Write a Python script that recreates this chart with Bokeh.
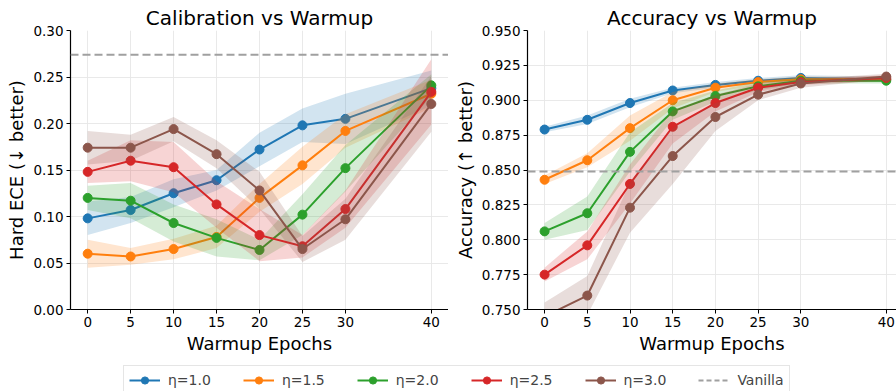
from bokeh.plotting import figure
from bokeh.layouts import column, row
from bokeh.models import FixedTicker, Span, Legend, LegendItem, NumeralTickFormatter
from bokeh.embed import file_html
from bokeh.resources import INLINE

# ---------------- data ----------------
epochs = [0, 5, 10, 15, 20, 25, 30, 40]
etas = ["η=1.0", "η=1.5", "η=2.0", "η=2.5", "η=3.0"]
colors = ["#1f77b4", "#ff7f0e", "#2ca02c", "#d62728", "#8c564b"]

ece_eta10 = [0.098, 0.107, 0.125, 0.139, 0.172, 0.198, 0.205, 0.238]
ece_eta15 = [0.060, 0.057, 0.065, 0.078, 0.120, 0.155, 0.192, 0.232]
ece_eta20 = [0.120, 0.117, 0.093, 0.077, 0.064, 0.102, 0.152, 0.241]
ece_eta25 = [0.148, 0.160, 0.153, 0.113, 0.080, 0.068, 0.108, 0.234]
ece_eta30 = [0.174, 0.174, 0.194, 0.167, 0.128, 0.065, 0.097, 0.221]

ece_std10 = [0.018, 0.014, 0.015, 0.011, 0.018, 0.018, 0.027, 0.019]
ece_std15 = [0.015, 0.009, 0.011, 0.012, 0.015, 0.020, 0.018, 0.015]
ece_std20 = [0.013, 0.019, 0.020, 0.020, 0.011, 0.022, 0.025, 0.012]
ece_std25 = [0.012, 0.022, 0.027, 0.025, 0.028, 0.012, 0.020, 0.035]
ece_std30 = [0.018, 0.014, 0.013, 0.015, 0.020, 0.014, 0.022, 0.030]

acc_eta10 = [0.879, 0.886, 0.898, 0.907, 0.911, 0.914, 0.916, 0.915]
acc_eta15 = [0.843, 0.857, 0.880, 0.900, 0.909, 0.913, 0.915, 0.915]
acc_eta20 = [0.806, 0.819, 0.863, 0.892, 0.903, 0.910, 0.914, 0.914]
acc_eta25 = [0.775, 0.796, 0.840, 0.881, 0.898, 0.909, 0.913, 0.916]
acc_eta30 = [0.745, 0.760, 0.823, 0.860, 0.888, 0.904, 0.912, 0.917]

acc_std10 = [0.002, 0.003, 0.003, 0.002, 0.002, 0.002, 0.002, 0.002]
acc_std15 = [0.003, 0.005, 0.009, 0.006, 0.003, 0.002, 0.002, 0.002]
acc_std20 = [0.006, 0.012, 0.014, 0.006, 0.004, 0.003, 0.002, 0.002]
acc_std25 = [0.005, 0.010, 0.014, 0.012, 0.006, 0.003, 0.002, 0.002]
acc_std30 = [0.010, 0.014, 0.018, 0.020, 0.010, 0.004, 0.003, 0.002]

vanilla_ece = 0.274
vanilla_acc = 0.849

ece_ticks = [0.0, 0.05, 0.10, 0.15, 0.20, 0.25, 0.30]
acc_ticks = [0.750, 0.775, 0.800, 0.825, 0.850, 0.875, 0.900, 0.925, 0.950]

ece_means = [ece_eta10, ece_eta15, ece_eta20, ece_eta25, ece_eta30]
ece_stds = [ece_std10, ece_std15, ece_std20, ece_std25, ece_std30]
acc_means = [acc_eta10, acc_eta15, acc_eta20, acc_eta25, acc_eta30]
acc_stds = [acc_std10, acc_std15, acc_std20, acc_std25, acc_std30]

FONT = "DejaVu Sans"
VAN_COLOR = "#a0a0a0"


def make_panel(title, ylabel, means, stds, yrange, yticks, fmt, vanilla, width, xend, border_left):
    p = figure(width=width, height=356, x_range=(-2, xend), y_range=yrange,
               output_backend="svg", toolbar_location=None,
               min_border_left=border_left, min_border_right=0,
               min_border_top=30, min_border_bottom=47)
    p.title.text = title
    p.title.align = "center"
    p.title.text_font = FONT
    p.title.text_font_size = "20px"
    p.title.text_font_style = "normal"
    p.title.text_color = "black"
    p.title.standoff = 2
    p.outline_line_color = None

    p.xaxis.ticker = FixedTicker(ticks=epochs)
    p.yaxis.ticker = FixedTicker(ticks=yticks)
    p.yaxis.formatter = NumeralTickFormatter(format=fmt)
    p.xaxis.axis_label = "Warmup Epochs"
    p.yaxis.axis_label = ylabel
    for ax in p.axis:
        ax.axis_label_text_font = FONT
        ax.axis_label_text_font_size = "18px"
        ax.axis_label_text_font_style = "normal"
        ax.axis_label_text_color = "black"
        ax.major_label_text_font = FONT
        ax.major_label_text_font_size = "13.5px"
        ax.major_label_text_color = "black"
        ax.minor_tick_line_color = None
        ax.major_tick_out = 4
        ax.major_tick_in = 0
        ax.major_label_standoff = 3
        ax.axis_label_standoff = 3
        ax.axis_line_color = "black"
        ax.axis_line_width = 1.2
        ax.major_tick_line_color = "black"
    p.grid.grid_line_color = "#e6e6e6"
    p.grid.grid_line_width = 0.9

    for m, s, c in zip(means, stds, colors):
        lo = [a - b for a, b in zip(m, s)]
        hi = [a + b for a, b in zip(m, s)]
        p.varea(x=epochs, y1=lo, y2=hi, fill_color=c, fill_alpha=0.2)
        p.line(epochs, m, line_color=c, line_width=2)
        p.scatter(epochs, m, size=9, fill_color=c, line_color=c)

    p.add_layout(Span(location=vanilla, dimension="width", line_color=VAN_COLOR,
                      line_width=2, line_dash="8 4"))
    return p


p1 = make_panel("Calibration vs Warmup", "Hard ECE (↓ better)", ece_means, ece_stds,
                (0.0, 0.30), ece_ticks, "0.00", vanilla_ece, 448, 42, 70)
p2 = make_panel("Accuracy vs Warmup", "Accuracy (↑ better)", acc_means, acc_stds,
                (0.75, 0.95), acc_ticks, "0.000", vanilla_acc, 448, 41.2, 79)

# legend figure (dummy renderers placed outside the visible range)
lp = figure(width=896, height=35, x_range=(0, 1), y_range=(0, 1),
            output_backend="svg", toolbar_location=None, min_border=0)
lp.axis.visible = False
lp.grid.visible = False
lp.outline_line_color = None
dummy_x = [-10, -9]
dummy_y = [-10, -10]
items = []
for lab, c in zip(etas, colors):
    l = lp.line(dummy_x, dummy_y, line_color=c, line_width=2)
    s = lp.scatter(dummy_x, dummy_y, size=6, fill_color=c, line_color=c)
    items.append(LegendItem(label=lab, renderers=[l, s]))
lv = lp.line(dummy_x, dummy_y, line_color=VAN_COLOR, line_width=2, line_dash="5 3")
items.append(LegendItem(label="Vanilla", renderers=[lv]))
leg = Legend(items=items, orientation="horizontal", location=(123, -4),
             glyph_width=31, glyph_height=18, label_standoff=8, spacing=32,
             padding=5, margin=0, border_line_color="#cccccc", border_line_width=1,
             label_text_font=FONT, label_text_font_size="14px", label_height=18)
lp.add_layout(leg)

layout = column(row(p1, p2, spacing=0), lp, spacing=0)
open("out.html", "w").write(file_html(layout, INLINE))
